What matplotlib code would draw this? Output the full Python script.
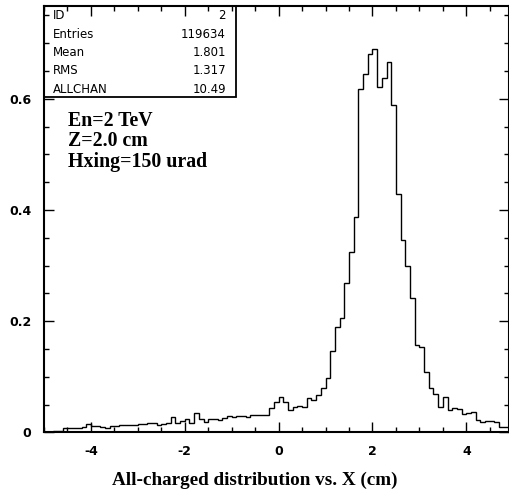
import numpy as np
import matplotlib
matplotlib.use('Agg')
import matplotlib.pyplot as plt
from matplotlib.patches import Rectangle
from matplotlib.ticker import MultipleLocator

# histogram: 100 bins from -5 to 5 cm
edges = np.linspace(-5, 5, 101)
counts = [0.001, 0.001, 0.002, 0.003, 0.007, 0.007, 0.008, 0.008, 0.009, 0.015,
          0.012, 0.011, 0.010, 0.008, 0.012, 0.012, 0.013, 0.013, 0.013, 0.014,
          0.015, 0.015, 0.017, 0.016, 0.013, 0.015, 0.017, 0.028, 0.017, 0.021,
          0.024, 0.017, 0.034, 0.024, 0.018, 0.024, 0.024, 0.022, 0.026, 0.030,
          0.028, 0.029, 0.030, 0.027, 0.032, 0.032, 0.031, 0.031, 0.044, 0.055,
          0.064, 0.055, 0.040, 0.045, 0.048, 0.046, 0.061, 0.059, 0.068, 0.079,
          0.098, 0.147, 0.190, 0.206, 0.268, 0.324, 0.388, 0.617, 0.644, 0.680,
          0.689, 0.621, 0.637, 0.666, 0.589, 0.428, 0.346, 0.299, 0.241, 0.157,
          0.153, 0.109, 0.079, 0.069, 0.046, 0.064, 0.040, 0.043, 0.042, 0.033,
          0.035, 0.036, 0.023, 0.019, 0.021, 0.020, 0.019, 0.010, 0.010, 0.007]

stat_names = ['ID', 'Entries', 'Mean', 'RMS', 'ALLCHAN']
stat_values = ['2', '119634', '1.801', '1.317', '10.49']
info_lines = ['En=2 TeV', 'Z=2.0 cm', 'Hxing=150 urad']

xticks = [-4, -2, 0, 2, 4]
yticks = [0, 0.2, 0.4, 0.6]
ytick_labels = ['0', '0.2', '0.4', '0.6']

fig = plt.figure(figsize=(5.10, 4.97), dpi=100)
ax = fig.add_axes([0.0863, 0.130, 0.9127, 0.858])

ax.stairs(counts, edges, color='black', lw=1.0)

ax.set_xlim(-5, 4.92)
ax.set_ylim(0, 0.767)

ax.set_xticks(xticks)
ax.set_xticklabels([str(t) for t in xticks])
ax.set_yticks(yticks)
ax.set_yticklabels(ytick_labels)
ax.xaxis.set_minor_locator(MultipleLocator(0.5))
ax.yaxis.set_minor_locator(MultipleLocator(0.05))
ax.tick_params(which='both', direction='in', top=True, right=True, width=1.0)
ax.tick_params(which='major', length=7)
ax.tick_params(which='minor', length=3.5)
ax.tick_params(axis='y', pad=9)
ax.tick_params(axis='x', pad=9)
for lab in ax.get_xticklabels() + ax.get_yticklabels():
    lab.set_fontfamily('DejaVu Sans')
    lab.set_fontweight('bold')
    lab.set_fontsize(9)
for sp in ax.spines.values():
    sp.set_linewidth(1.5)

# stats box
box_w = 0.4125
box_h = 1 - 0.7865
ax.add_patch(Rectangle((0, 1 - box_h), box_w, box_h, transform=ax.transAxes,
                       fill=False, ec='black', lw=1.3, clip_on=False))
rows_y = [0.9765, 0.932, 0.8898, 0.8475, 0.805]
for name, val, yy in zip(stat_names, stat_values, rows_y):
    ax.text(0.0193, yy, name, transform=ax.transAxes, ha='left', va='center',
            family='DejaVu Sans', fontsize=8.5)
    ax.text(0.391, yy, val, transform=ax.transAxes, ha='right', va='center',
            family='DejaVu Sans', fontsize=8.5)

info_y = [0.7185, 0.6716, 0.6223]
for line, yy in zip(info_lines, info_y):
    ax.text(0.0516, yy, line, transform=ax.transAxes, ha='left', va='baseline',
            family='Liberation Serif', fontweight='bold', fontsize=14.3)

fig.text(0.5, 0.024, 'All-charged distribution vs. X (cm)', ha='center',
         va='baseline', family='Liberation Serif', fontweight='bold', fontsize=13.8)

plt.savefig('out.png', dpi=100)
